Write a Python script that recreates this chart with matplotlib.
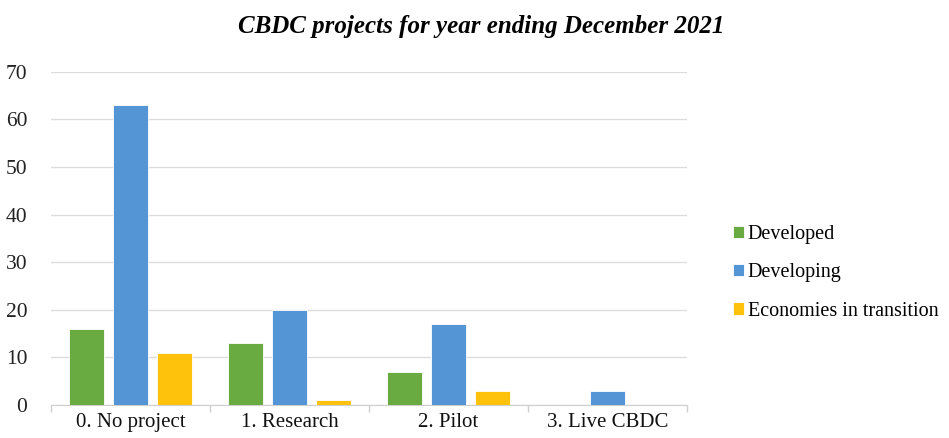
import matplotlib
matplotlib.use("Agg")
import matplotlib.pyplot as plt
import numpy as np

categories = ["0. No project", "1. Research", "2. Pilot", "3. Live CBDC"]
series_names = ["Developed", "Developing", "Economies in transition"]
developed = [16, 13, 7, 0]
developing = [63, 20, 17, 3]
transition = [11, 1, 3, 0]
colors = ["#6aab41", "#5495d6", "#fec10c"]
yticks = [0, 10, 20, 30, 40, 50, 60, 70]

plt.rcParams['font.family'] = ['Liberation Serif', 'DejaVu Serif']

fig = plt.figure(figsize=(9.49, 4.38), dpi=100)
ax = fig.add_axes([0.0537, 0.0753, 0.6703, 0.7607])

x = np.arange(len(categories))
w = 0.22
offs = [-0.278, 0.0, 0.278]
for vals, off, c, name in zip([developed, developing, transition], offs, colors, series_names):
    ax.bar(x + off, vals, width=w, color=c, label=name, zorder=3,
           edgecolor="white", linewidth=0.6)

ax.set_xlim(-0.5, len(categories) - 0.5)
ax.set_ylim(0, 70)
ax.set_yticks(yticks)
ax.set_yticklabels([str(v) for v in yticks], fontsize=15.5, color="#222222")
ax.yaxis.grid(True, color="#dcdcdc", linewidth=1, zorder=0)
ax.set_axisbelow(True)
ax.tick_params(axis="y", length=0, pad=17)

ax.set_xticks(x)
ax.set_xticklabels(categories, fontsize=15, color="#111111")
ax.set_xticks(np.arange(len(categories) + 1) - 0.5, minor=True)
ax.tick_params(axis="x", which="major", length=0, pad=6)
ax.tick_params(axis="x", which="minor", length=5, color="#cfcfcf", width=1)

for s in ["top", "right", "left"]:
    ax.spines[s].set_visible(False)
ax.spines["bottom"].set_color("#cfcfcf")

fig.text(0.507, 0.94, "CBDC projects for year ending December 2021",
         ha="center", va="center", fontsize=18, fontweight="bold", fontstyle="italic")

leg = fig.legend(loc="upper left", bbox_to_anchor=(0.753, 0.527), frameon=False,
                 fontsize=14.5, handlelength=0.55, handleheight=0.55,
                 handletextpad=0.2, labelspacing=0.95)

fig.savefig("out.png", dpi=100)
